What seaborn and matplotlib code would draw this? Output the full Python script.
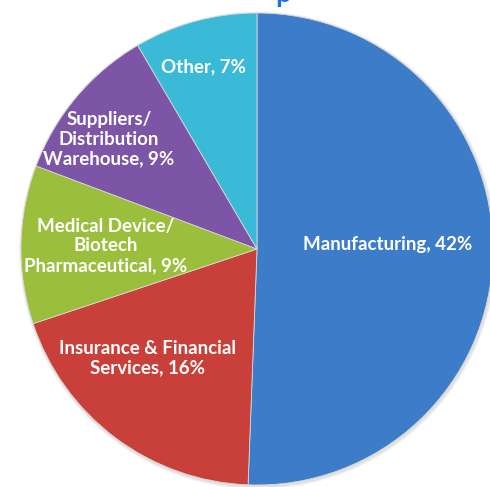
import matplotlib
matplotlib.use("Agg")
import matplotlib.pyplot as plt
import seaborn as sns
import numpy as np

# slice data (clockwise from 12 o'clock)
sectors = ["Manufacturing", "Insurance & Financial\nServices", "Medical Device/\nBiotech\nPharmaceutical",
           "Suppliers/\nDistribution\nWarehouse", "Other"]
shares = [42, 16, 9, 9, 7]
colors = ["#3d7cc9", "#c9403a", "#9bbf3c", "#7c55a6", "#3bbad8"]

# where each label sits, in pie-radius units
label_xy = [(0.555, 0.017), (-0.462, -0.462), (-0.64, 0.013), (-0.627, 0.466), (-0.225, 0.771)]

sns.set_theme(style="white")
plt.rcParams["font.family"] = ["Lato", "DejaVu Sans"]

fig = plt.figure(figsize=(4.90, 4.87), dpi=100)
ax = fig.add_axes([0, 0, 1, 1])

# soft shadow behind the pie
for r, a in [(1.012, 0.10), (1.006, 0.15)]:
    ax.add_patch(plt.Circle((0.004, -0.006), r, color="#808080", alpha=a, lw=0, zorder=0))

wedges, _ = ax.pie(shares, colors=colors, startangle=90, counterclock=False,
                   radius=1.0, wedgeprops=dict(edgecolor="#d8d8d8", linewidth=0.6))
for w in wedges:
    w.set_zorder(1)

for name, val, (x, y) in zip(sectors, shares, label_xy):
    ax.text(x, y, f"{name}, {val}%", ha="center", va="center", color="white",
            fontsize=13.5, fontweight="bold", linespacing=1.18, zorder=3)

# cut-off title descender at the very top
fig.text(0.578, 0.995, "p", color="#1f6fe0", fontsize=20, fontweight="bold",
         ha="center", va="baseline")

ax.set_xlim(-257 / 236, (490 - 257) / 236)
ax.set_ylim(-238 / 236, (487 - 238) / 236)
ax.set_aspect("equal")
ax.axis("off")

fig.savefig("out.png", dpi=100)
